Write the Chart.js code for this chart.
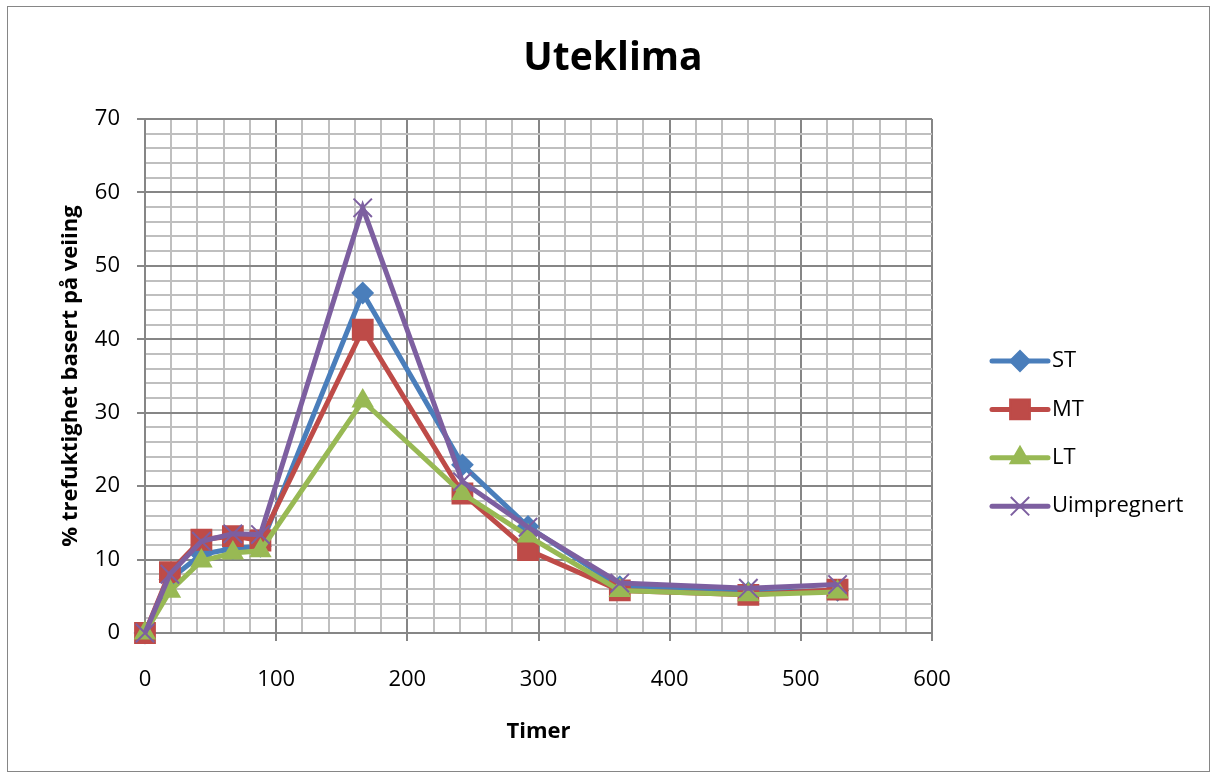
<!DOCTYPE html>
<html>
<head>
<meta charset="utf-8">
<title>Uteklima</title>
<script src="https://cdn.jsdelivr.net/npm/chart.js@4/dist/chart.umd.min.js"></script>
<style>
  html, body { margin: 0; padding: 0; background: #fff; }
  #wrap { width: 1214px; height: 774px; }
</style>
</head>
<body>
<div id="wrap"><canvas id="myChart" width="1214" height="774"></canvas></div>
<script>
// hours on the x axis
const hours = [0, 19, 43, 67, 88, 166, 242, 292, 362, 460, 528];

// moisture % per series
const st = [0, 7.3, 10.7, 11.5, 11.8, 46.3, 22.9, 14.5, 6.3, 5.5, 5.8];
const mt = [0, 8.3, 12.7, 13.2, 12.6, 41.3, 19.0, 11.3, 5.8, 5.2, 5.9];
const lt = [0, 5.7, 9.8, 10.9, 11.2, 31.6, 19.0, 13.2, 5.8, 5.2, 5.6];
const uimp = [0, 8.0, 12.5, 13.5, 13.4, 57.9, 20.6, 14.4, 6.8, 6.1, 6.6];

const seriesNames = ['ST', 'MT', 'LT', 'Uimpregnert'];
const xTicks = [0, 100, 200, 300, 400, 500, 600];
const yTicks = [0, 10, 20, 30, 40, 50, 60, 70];

const colors = ['#4A7EBB', '#BE4B48', '#98B954', '#7D5FA0'];
const markers = [
  { style: 'rectRot', r: 10 },
  { style: 'rect', r: 14 },
  { style: 'triangle', r: 11 },
  { style: 'crossRot', r: 13 }
];

Chart.defaults.font.family = '"Open Sans", sans-serif';
Chart.defaults.color = '#000';

const toPoints = vals => vals.map((v, i) => ({ x: hours[i], y: v }));

const allSeries = [st, mt, lt, uimp];
const datasets = allSeries.map((vals, i) => ({
  label: seriesNames[i],
  data: toPoints(vals),
  borderColor: colors[i],
  backgroundColor: colors[i],
  borderWidth: 5,
  pointStyle: markers[i].style,
  pointRadius: markers[i].r,
  pointHoverRadius: markers[i].r,
  pointBorderWidth: 2,
  pointBorderColor: colors[i],
  pointBackgroundColor: colors[i],
  tension: 0,
  clip: false,
  order: 4 - i   // last series on top, like the original
}));

// white page, thin outer frame and the centred title
const frame = {
  id: 'frame',
  beforeDraw(chart) {
    const c = chart.ctx;
    c.save();
    c.fillStyle = '#fff';
    c.fillRect(0, 0, chart.width, chart.height);
    c.strokeStyle = '#868686';
    c.lineWidth = 1;
    c.strokeRect(7.5, 6.5, 1202, 765);
    c.fillStyle = '#000';
    c.font = 'bold 39px "Open Sans"';
    c.textAlign = 'center';
    c.textBaseline = 'middle';
    c.fillText('Uteklima', 613, 59);
    c.restore();
  }
};

// legend on the right: line + marker + name
const sideLegend = {
  id: 'sideLegend',
  afterDraw(chart) {
    const c = chart.ctx;
    const x0 = 992, x1 = 1048, top = 361, gap = 48.4;
    c.save();
    seriesNames.forEach((name, i) => {
      const y = top + i * gap;
      c.strokeStyle = colors[i];
      c.lineWidth = 5;
      c.lineCap = 'round';
      c.beginPath();
      c.moveTo(x0, y);
      c.lineTo(x1, y);
      c.stroke();
      c.lineCap = 'butt';
      c.fillStyle = colors[i];
      c.lineWidth = 2;
      Chart.helpers.drawPoint(c, { pointStyle: markers[i].style, radius: markers[i].r, borderWidth: 2 }, (x0 + x1) / 2, y);
      c.fillStyle = '#000';
      c.font = '22px "Open Sans"';
      c.textBaseline = 'middle';
      c.textAlign = 'left';
      c.fillText(name, 1052, y);
    });
    c.restore();
  }
};

const major = '#868686';
const minor = '#BFBFBF';

new Chart(document.getElementById('myChart'), {
  type: 'line',
  data: { datasets },
  plugins: [frame, sideLegend],
  options: {
    responsive: false,
    animation: false,
    layout: { padding: { top: 119, left: 0, right: 282, bottom: 0 } },
    plugins: {
      legend: { display: false },
      tooltip: { enabled: false },
      title: { display: false }
    },
    scales: {
      x: {
        type: 'linear',
        min: xTicks[0],
        max: xTicks[xTicks.length - 1],
        afterFit: s => { s.height = 141; },
        ticks: {
          stepSize: 20,
          autoSkip: false,
          maxRotation: 0,
          padding: 26,
          font: { size: 22 },
          callback: v => xTicks.includes(v) ? v : ''
        },
        grid: {
          lineWidth: 2,
          tickLength: 8,
          color: ctx => xTicks.includes(ctx.tick.value) ? major : minor,
          tickColor: ctx => xTicks.includes(ctx.tick.value) ? major : 'rgba(0,0,0,0)'
        },
        border: { color: major, width: 2 },
        title: {
          display: true,
          text: 'Timer',
          font: { size: 22, weight: 'bold' },
          padding: { top: 0, bottom: 29 }
        }
      },
      y: {
        min: yTicks[0],
        max: yTicks[yTicks.length - 1],
        afterFit: s => { s.width = 145; },
        ticks: {
          stepSize: 2,
          autoSkip: false,
          padding: 17,
          font: { size: 22 },
          callback: v => yTicks.includes(v) ? v : ''
        },
        grid: {
          lineWidth: 2,
          tickLength: 8,
          color: ctx => yTicks.includes(ctx.tick.value) ? major : minor,
          tickColor: ctx => yTicks.includes(ctx.tick.value) ? major : 'rgba(0,0,0,0)'
        },
        border: { color: major, width: 2 },
        title: {
          display: true,
          text: '% trefuktighet basert på veiing',
          font: { size: 22, weight: 'bold' },
          padding: { top: 58, bottom: 0 }
        }
      }
    }
  }
});
</script>
</body>
</html>
